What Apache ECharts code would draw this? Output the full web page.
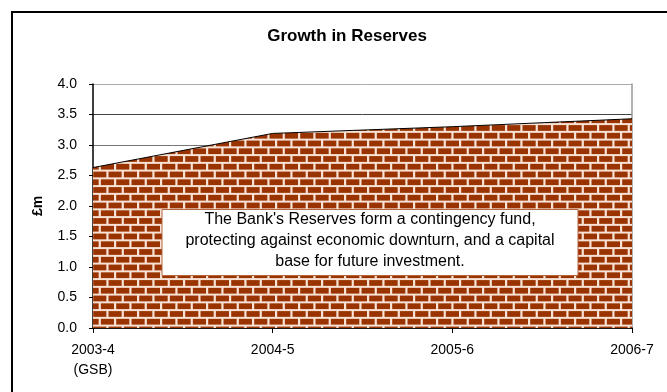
<!DOCTYPE html>
<html><head><meta charset="utf-8">
<script src="https://cdn.jsdelivr.net/npm/echarts@6/dist/echarts.min.js"></script>
<style>html,body{margin:0;padding:0;background:#fff;}#c{width:667px;height:392px;}</style>
</head><body><div id="c"></div>
<script>
var categories = ['2003-4\n(GSB)', '2004-5', '2005-6', '2006-7'];
var reserves = [2.63, 3.19, 3.30, 3.43];
var yTicks = [0, 0.5, 1.0, 1.5, 2.0, 2.5, 3.0, 3.5, 4.0];
var noteText = "The Bank's Reserves form a contingency fund,\nprotecting against economic downturn, and a capital\nbase for future investment.";

function brickPattern() {
  var c = document.createElement('canvas');
  c.width = 46; c.height = 31;
  var g = c.getContext('2d');
  g.fillStyle = '#f8e2d6';
  g.fillRect(0, 0, 46, 31);
  g.fillStyle = '#993300';
  var pw = 46 / 3, ph = 31 / 4;
  for (var i = 0; i < 4; i++) {
    var off = (i % 2) * pw / 2;
    for (var k = -1; k < 4; k++) {
      var x = off + k * pw;
      g.fillRect(x + 1.2, i * ph + 1.1, pw - 2.2, ph - 2.0);
    }
  }
  return c;
}

var chart = echarts.init(document.getElementById('c'));
var font = 'Liberation Sans, Arial, sans-serif';
chart.setOption({
  animation: false,
  title: {
    text: 'Growth in Reserves', left: 342, top: 23, textAlign: 'center',
    textStyle: { fontFamily: font, fontSize: 17, fontWeight: 'bold', color: '#000' }
  },
  grid: { left: 93, right: 35, top: 84, bottom: 64 },
  xAxis: {
    type: 'category', data: categories, boundaryGap: false,
    axisLine: { lineStyle: { color: '#000', width: 1.5 } },
    axisTick: { show: true, length: 5, alignWithLabel: true, lineStyle: { color: '#000' } },
    axisLabel: { margin: 12, fontFamily: font, fontSize: 14, color: '#000', lineHeight: 20, interval: 0 },
    splitLine: { show: false }
  },
  yAxis: [{
    type: 'value', min: 0, max: 4, interval: 0.5,
    name: '£m', nameLocation: 'middle', nameGap: 48, nameRotate: 90,
    nameTextStyle: { fontFamily: font, fontSize: 14, fontWeight: 'bold', color: '#000' },
    axisLine: { show: true, lineStyle: { color: '#000', width: 1.5 } },
    axisTick: { show: true, length: 4, inside: false, lineStyle: { color: '#000' } },
    axisLabel: { margin: 16, fontFamily: font, fontSize: 14, color: '#000',
      formatter: function (v) { return v.toFixed(1); } },
    splitLine: { show: true, lineStyle: { color: ['#555','#555','#555','#555','#555','#555','#777','#444','#aaa'], width: 1 } }
  }, {
    type: 'value', min: 0, max: 4, interval: 0.5, position: 'right',
    axisLine: { show: true, lineStyle: { color: '#999', width: 1.5 } },
    axisTick: { show: false }, axisLabel: { show: false }, splitLine: { show: false }
  }],
  series: [{
    type: 'line', data: reserves, symbol: 'none',
    lineStyle: { color: '#000', width: 1 },
    areaStyle: { color: { image: brickPattern(), repeat: 'repeat' }, opacity: 1 },
    z: 3
  }],
  graphic: [
    { type: 'rect', shape: { x: 12, y: 12, width: 700, height: 420 }, style: { fill: 'none', stroke: '#000', lineWidth: 2 }, z: 100 },
    { type: 'rect', shape: { x: 162, y: 209.5, width: 416, height: 66 }, style: { fill: '#fff', stroke: '#b5653f', lineWidth: 1 }, z: 50 },
    { type: 'text', x: 370, y: 241, z: 51,
      style: { text: noteText, fill: '#000', font: '16px ' + font, textAlign: 'center', textVerticalAlign: 'middle', lineHeight: 21 } }
  ]
});
</script></body></html>
